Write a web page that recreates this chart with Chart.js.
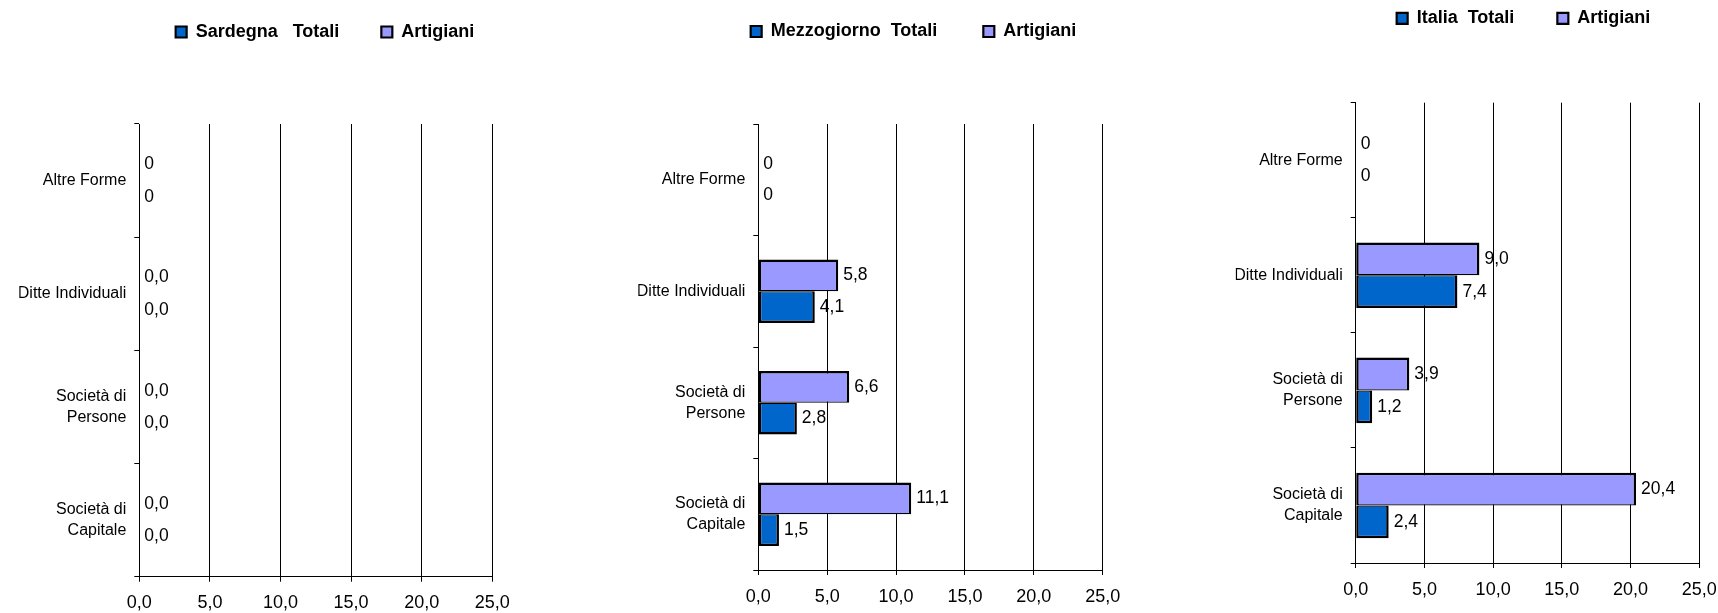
<!DOCTYPE html>
<html lang="it">
<head>
<meta charset="utf-8">
<title>Totali e Artigiani per forma giuridica</title>
<script src="https://cdn.jsdelivr.net/npm/chart.js@4.4.1/dist/chart.umd.min.js"></script>
<style>
  body { margin: 0; background: #fff; width: 1718px; height: 613px; overflow: hidden; position: relative; }
  canvas { position: absolute; top: 0; }
</style>
</head>
<body>
<canvas id="sardegna" width="540" height="613" style="left:0px"></canvas>
<canvas id="mezzogiorno" width="580" height="613" style="left:560px"></canvas>
<canvas id="italia" width="558" height="613" style="left:1160px"></canvas>
<script>
const categories = ['Altre Forme', 'Ditte Individuali', ['Società di', 'Persone'], ['Società di', 'Capitale']];
const labelDecimals = [0, 1, 1, 1];
const xTickLabels = ['0,0', '5,0', '10,0', '15,0', '20,0', '25,0'];

const sardegnaTotali = [0, 0, 0, 0];
const sardegnaArtigiani = [0, 0, 0, 0];
const mezzogiornoTotali = [0, 4.1, 2.8, 1.5];
const mezzogiornoArtigiani = [0, 5.8, 6.6, 11.1];
const italiaTotali = [0, 7.4, 1.2, 2.4];
const italiaArtigiani = [0, 9.0, 3.9, 20.4];

Chart.defaults.font.family = "'Liberation Sans', Arial, sans-serif";
Chart.defaults.color = '#000';

const legendSize = 18;

// value next to the end of every bar
const valueLabels = {
    id: 'valueLabels',
    afterDatasetsDraw(chart) {
        const ctx = chart.ctx;
        ctx.save();
        ctx.font = "17.5px 'Liberation Sans', Arial, sans-serif";
        ctx.fillStyle = '#000';
        ctx.textAlign = 'left';
        ctx.textBaseline = 'middle';
        chart.data.datasets.forEach((ds, di) => {
            chart.getDatasetMeta(di).data.forEach((bar, i) => {
                const txt = ds.data[i].toFixed(labelDecimals[i]).replace('.', ',');
                ctx.fillText(txt, bar.x + 5, bar.y);
            });
        });
        ctx.restore();
    }
};

// moves the legend row to a given centre inside the canvas
const legendPos = {
    id: 'legendPos',
    afterLayout(chart, args, opts) {
        const lg = chart.legend;
        const lab = lg.options.labels;
        const dx = opts.cx - (lg.left + lg.right) / 2;
        const dy = opts.cy - (lg.top + lab.padding + legendSize / 2);
        lg.left += dx; lg.right += dx;
        lg.top += dy; lg.bottom += dy;
    }
};

function drawPanel(id, offset, area, legend, nameTotali, totali, artigiani) {
    const canvas = document.getElementById(id);
    const yWidth = 120;
    const xHeight = 36;
    new Chart(canvas, {
        type: 'bar',
        data: {
            labels: categories,
            datasets: [{
                label: 'Artigiani',
                data: artigiani,
                backgroundColor: '#9999FF',
                borderColor: '#000',
                borderWidth: { top: 2.5, right: 2.5, bottom: 1.25, left: 2.5 },
                borderSkipped: false,
                inflateAmount: 0,
                categoryPercentage: 0.57,
                barPercentage: 1
            }, {
                label: nameTotali,
                data: totali,
                backgroundColor: '#0066CC',
                borderColor: '#000',
                borderWidth: { top: 1.25, right: 2.5, bottom: 2.5, left: 2.5 },
                borderSkipped: false,
                inflateAmount: 0,
                categoryPercentage: 0.57,
                barPercentage: 1
            }]
        },
        options: {
            indexAxis: 'y',
            responsive: false,
            animation: false,
            layout: {
                padding: {
                    left: area.left - offset - yWidth,
                    right: canvas.width - (area.right - offset),
                    top: area.top - (legendSize + 10) - legend.padding,
                    bottom: canvas.height - area.bottom - xHeight
                }
            },
            scales: {
                x: {
                    min: 0,
                    max: 25,
                    ticks: { stepSize: 5, padding: 11, font: { size: 18 }, callback: (v, i) => xTickLabels[i] },
                    grid: { color: '#000', lineWidth: 1, tickLength: 5 },
                    border: { color: '#000', width: 1 },
                    afterFit: s => { s.height = xHeight; s.paddingLeft = 0; s.paddingRight = 0; }
                },
                y: {
                    offset: true,
                    ticks: { padding: 8, autoSkip: false, font: { size: 16, lineHeight: 1.3 } },
                    grid: { offset: true, drawOnChartArea: false, color: '#000', tickLength: 5 },
                    border: { color: '#000', width: 1 },
                    afterFit: s => { s.width = yWidth; }
                }
            },
            plugins: {
                legend: {
                    reverse: true,
                    labels: {
                        boxWidth: 11,
                        boxHeight: 11,
                        padding: legend.padding,
                        font: { size: legendSize, weight: 'bold' }
                    }
                },
                tooltip: { enabled: false },
                legendPos: { cx: legend.cx - offset, cy: legend.cy }
            }
        },
        plugins: [valueLabels, legendPos]
    });
}

drawPanel('sardegna', 0,
    { left: 139.3, right: 492.3, top: 124, bottom: 576.7 },
    { padding: 42, cx: 325, cy: 32 },
    'Sardegna   Totali', sardegnaTotali, sardegnaArtigiani);

drawPanel('mezzogiorno', 560,
    { left: 758.3, right: 1102.7, top: 124, bottom: 570 },
    { padding: 46, cx: 913.5, cy: 31.5 },
    'Mezzogiorno  Totali', mezzogiornoTotali, mezzogiornoArtigiani);

drawPanel('italia', 1160,
    { left: 1355.7, right: 1699.3, top: 102.7, bottom: 563 },
    { padding: 43, cx: 1523.5, cy: 18.3 },
    'Italia  Totali', italiaTotali, italiaArtigiani);
</script>
</body>
</html>
